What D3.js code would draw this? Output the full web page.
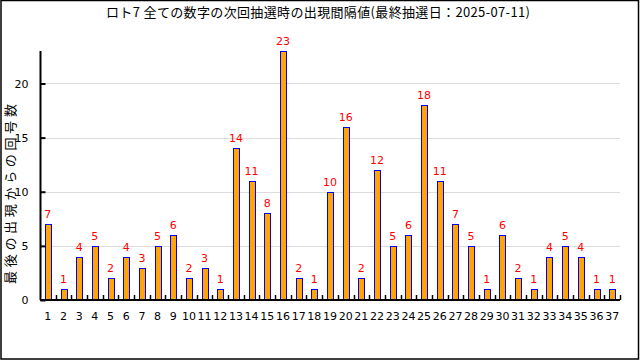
<!DOCTYPE html>
<html><head><meta charset="utf-8">
<script src="https://cdn.jsdelivr.net/npm/d3@7"></script>
<style>body{margin:0;background:#fff}svg{display:block}</style>
</head><body>
<svg id="c" width="640" height="360"></svg>
<script>
const numbers = d3.range(1, 38).map(String);
const intervals = [7,1,4,5,2,4,3,5,6,2,3,1,14,11,8,23,2,1,10,16,2,12,5,6,18,11,7,5,1,6,2,1,4,5,4,1,1];
const yTicks = [0,5,10,15,20];
const titleText = "ロト7 全ての数字の次回抽選時の出現間隔値(最終抽選日：2025-07-11)";
const yTitle = "最後の出現からの回号数";

(function(){
const svg = d3.select("#c");
const pL = 40, pR = 620, pT = 51, pB = 300;
const font = "'DejaVu Sans', sans-serif";
const cjk = "'Noto Sans CJK JP', sans-serif";

svg.append("rect").attr("x",1).attr("y",0.5).attr("width",637.5).attr("height",358.5)
  .attr("fill","#fff").attr("stroke","#000").attr("stroke-width",1.5);

const x = d3.scaleBand().domain(numbers).range([pL, pR]).padding(0);
const y = d3.scaleLinear().domain([0, 23]).range([pB, pT]);

svg.append("g").selectAll("line").data(yTicks.filter(d=>d>0)).join("line")
  .attr("x1", pL).attr("x2", pR)
  .attr("y1", d=>Math.round(y(d))+0.5).attr("y2", d=>Math.round(y(d))+0.5)
  .attr("stroke","#dcdcdc").attr("stroke-width",1);

const bw = x.bandwidth()*0.38;
svg.append("g").selectAll("rect").data(intervals).join("rect")
  .attr("x",(d,i)=>Math.round(x(numbers[i]) + x.bandwidth()/2 - bw/2)+0.5)
  .attr("y",d=>Math.round(y(d))+0.5)
  .attr("width",Math.round(bw))
  .attr("height",d=>Math.round(pB - y(d)))
  .attr("fill","#FFA500").attr("stroke","#0000FF").attr("stroke-width",1);

svg.append("g").selectAll("text").data(intervals).join("text")
  .attr("x",(d,i)=>x(numbers[i]) + x.bandwidth()/2)
  .attr("y",d=>y(d)-6)
  .attr("text-anchor","middle")
  .attr("font-family",font).attr("font-size",11)
  .attr("fill","#FF0000")
  .text(d=>d);

const yAxis = d3.axisLeft(y).tickValues(yTicks).tickSize(-5).tickPadding(12);
const gy = svg.append("g").attr("transform",`translate(${pL+0.5},0)`).call(yAxis);
gy.select(".domain").attr("d",`M0,${pT}V${pB}`).attr("stroke","#000").attr("stroke-width",2);
gy.selectAll(".tick line").attr("stroke","#000").attr("stroke-width",2);
gy.selectAll(".tick text").attr("font-family",font).attr("font-size",11).attr("fill","#000");

const xAxis = d3.axisBottom(x).tickSize(0).tickPadding(12);
const gx = svg.append("g").attr("transform",`translate(0,${pB})`).call(xAxis);
gx.select(".domain").attr("d",`M${pL},0H${pR}`).attr("stroke","#000").attr("stroke-width",2);
gx.selectAll(".tick text").attr("font-family",font).attr("font-size",11).attr("fill","#000");
const bounds = numbers.map(n=>x(n)).concat([pR]).slice(1);
svg.append("g").selectAll("line").data(bounds).join("line")
  .attr("x1",d=>Math.round(d)+0.5).attr("x2",d=>Math.round(d)+0.5)
  .attr("y1",pB-5).attr("y2",pB)
  .attr("stroke","#000").attr("stroke-width",1.5);

svg.append("text").attr("x",318).attr("y",17).attr("text-anchor","middle")
  .attr("font-family",cjk).attr("font-size",13).attr("fill","#000")
  .attr("textLength",424).attr("lengthAdjust","spacing").text(titleText);

svg.append("text").attr("transform","translate(15,194) rotate(-90)")
  .attr("text-anchor","middle")
  .attr("font-family",cjk).attr("font-size",13).attr("fill","#000")
  .attr("textLength",180).attr("lengthAdjust","spacing")
  .text(yTitle);
})();
</script>
</body></html>
